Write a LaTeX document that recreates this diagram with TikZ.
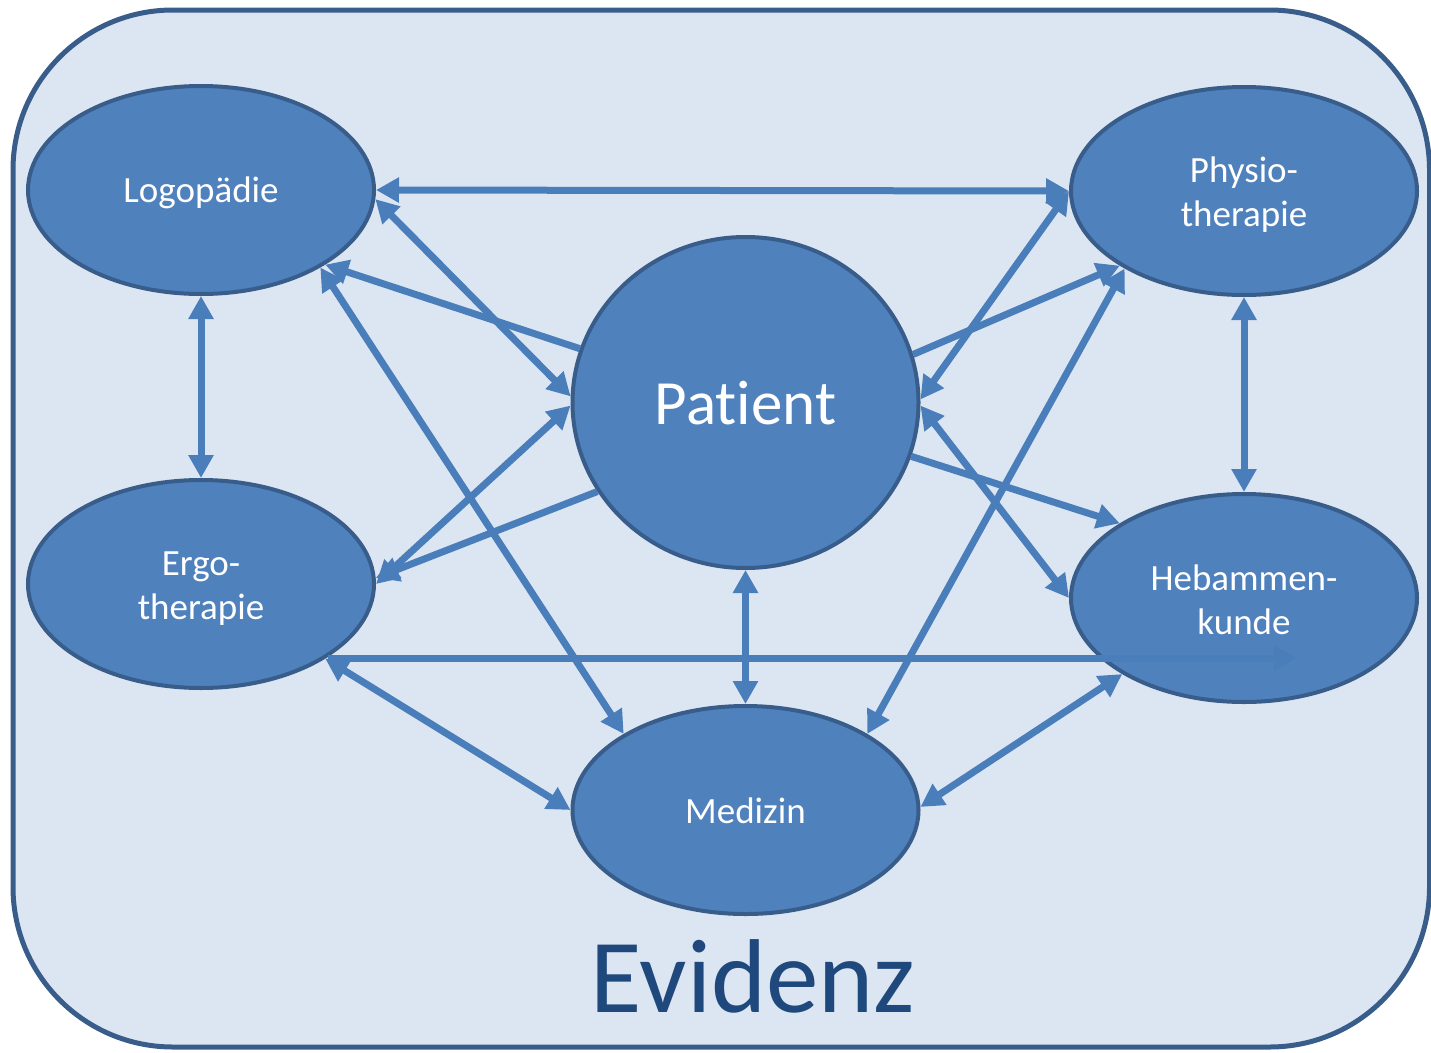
\documentclass[tikz,border=0pt]{standalone}
\usepackage{fontspec}
\setmainfont{Carlito}[Ligatures={NoCommon}]
\usetikzlibrary{arrows.meta,shapes.geometric}
\definecolor{bgfill}{HTML}{DCE6F2}
\definecolor{bordc}{HTML}{385D8A}
\definecolor{ellfill}{HTML}{4F81BD}
\definecolor{arrc}{HTML}{4A7EBB}
\definecolor{evc}{HTML}{1F497D}
\begin{document}
\begin{tikzpicture}[x=1pt,y=-1pt,
  >={Triangle[length=23pt,width=24pt]},
  disc/.style={ellipse, draw=bordc, line width=4pt, fill=ellfill,
    minimum width=346pt, minimum height=208pt, inner sep=0pt},
  lbl/.style={text=white, align=center, inner sep=0pt,
    font=\fontsize{37}{44}\selectfont},
  link/.style={arrc, line width=7pt, <->},
  onelink/.style={arrc, line width=7pt, ->}]
\useasboundingbox (0,0) rectangle (1431,1052);
\draw[bordc, fill=bgfill, line width=5pt, rounded corners=160pt] (13,10) rectangle (1429.5,1047);

\node[disc, label={[lbl,yshift=-3pt]center:Logopädie}] (logo) at (201,190) {};
\node[disc, label={[lbl,yshift=-3.5pt]center:{Physio-\\therapie}}] (physio) at (1244,191) {};
\node[disc, label={[lbl,yshift=-4.5pt]center:{Ergo-\\therapie}}] (ergo) at (201,584) {};
\node[disc, label={[lbl,yshift=-1.5pt]center:{Hebammen-\\kunde}}] (heb) at (1244,598) {};
\node[disc, minimum height=331pt, label={[lbl,yshift=-1pt,font=\fontsize{63}{70}\selectfont]center:Patient}] (patient) at (745.5,402.5) {};
\node[disc, label={[lbl,yshift=-1pt]center:Medizin}] (medizin) at (745.5,810) {};
\node[anchor=base, text=evc, font=\fontsize{105}{112}\selectfont] (ev) at (753,1012) {Evidenz};
\coordinate (hebin) at (1297,658);

\draw[link] (logo.east) -- (physio.west);
\draw[link] (logo.-3) -- (patient.178);
\draw[onelink] (patient.162) -- (logo.-31);
\draw[link] (logo.-33) -- (medizin.148);
\draw[link] (ergo.0) -- (patient.181);
\draw[onelink] (patient.211) -- (ergo.2);
\draw[link] (logo.south) -- (ergo.north);
\draw[link] (ergo.-31.5) -- (medizin.180);
\draw[onelink] (hebin -| ergo.-30.6) -- (hebin);
\draw[link] (patient.south) -- (medizin.north);
\draw[link] (physio.180.5) -- (patient.1);
\draw[onelink] (patient.16) -- (physio.211);
\draw[link] (physio.213) -- (medizin.32);
\draw[link] (patient.-1) -- (heb.180);
\draw[onelink] (patient.-18) -- (heb.149);
\draw[link] (physio.south) -- (heb.north);
\draw[link] (medizin.1) -- (heb.212);
\end{tikzpicture}
\end{document}
